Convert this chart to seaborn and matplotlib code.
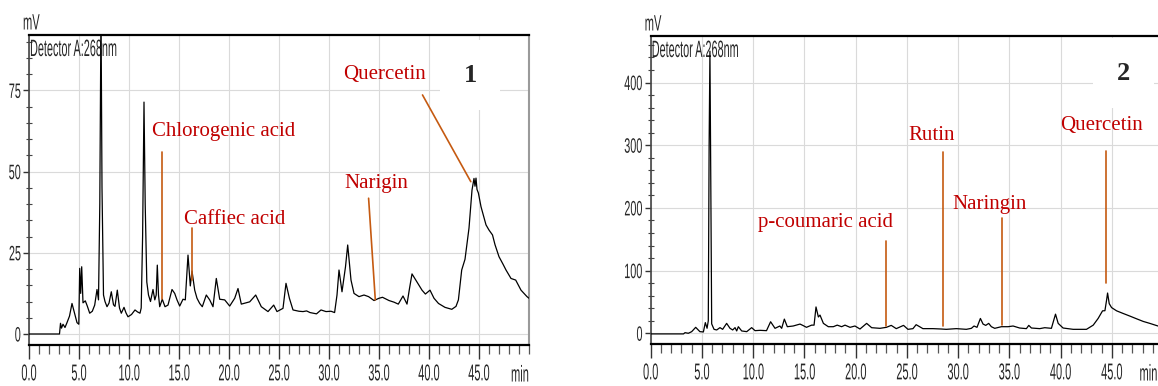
import matplotlib
matplotlib.use("Agg")
import matplotlib.pyplot as plt
import seaborn as sns
import numpy as np
import pandas as pd
from matplotlib.patheffects import AbstractPathEffect
from matplotlib.transforms import Affine2D, blended_transform_factory
from matplotlib.ticker import MultipleLocator, FixedLocator, FuncFormatter

# ---------------- data: chromatogram 1 ----------------
rt_1 = [0.0, 3.05, 3.15, 3.25, 3.4, 3.6, 3.8, 4.05, 4.3, 4.5,
        4.8, 4.98, 5.07, 5.17, 5.27, 5.4, 5.63, 5.83, 6.07, 6.33,
        6.57, 6.8, 6.95, 7.08, 7.2, 7.3, 7.45, 7.6, 7.8, 8.0,
        8.23, 8.45, 8.6, 8.83, 9.05, 9.23, 9.5, 9.7, 9.9, 10.25,
        10.6, 10.85, 11.1, 11.22, 11.36, 11.5, 11.62, 11.78, 11.95, 12.15,
        12.4, 12.58, 12.72, 12.83, 12.95, 13.07, 13.33, 13.6, 13.9, 14.3,
        14.57, 14.8, 15.07, 15.4, 15.63, 15.9, 16.13, 16.3, 16.57, 16.8,
        17.07, 17.33, 17.73, 18.07, 18.4, 18.73, 19.07, 19.57, 20.07, 20.57,
        20.9, 21.23, 21.6, 22.07, 22.67, 23.23, 23.9, 24.47, 24.8, 25.1,
        25.4, 25.7, 26.04, 26.4, 27.0, 27.4, 27.76, 28.1, 28.4, 28.75,
        29.2, 29.7, 30.2, 30.56, 30.8, 31.0, 31.3, 31.65, 31.87, 32.2,
        32.5, 33.0, 33.5, 33.96, 34.5, 35.0, 35.35, 36.0, 36.5, 36.93,
        37.4, 37.8, 38.05, 38.3, 38.6, 38.98, 39.3, 39.64, 40.1, 40.5,
        40.95, 41.6, 42.28, 42.7, 42.94, 43.27, 43.6, 44.0, 44.3, 44.5,
        44.6, 44.7, 44.8, 44.94, 45.2, 45.7, 46.0, 46.35, 46.6, 47.0,
        47.4, 47.7, 48.2, 48.67, 49.2, 49.8, 50.0]
mv_1 = [0.0, 0.0, 3.3, 1.8, 3.0, 2.0, 3.5, 5.5, 9.4, 7.0,
        3.5, 3.0, 20.2, 12.5, 20.7, 9.6, 10.2, 8.6, 6.4, 7.0,
        8.9, 13.7, 10.5, 40.0, 100.0, 45.0, 12.0, 10.0, 8.4, 9.5,
        13.0, 9.0, 8.5, 13.5, 8.0, 6.4, 8.2, 6.5, 5.3, 6.0,
        7.4, 6.8, 6.4, 8.0, 30.0, 71.4, 40.0, 16.0, 12.0, 10.0,
        13.7, 10.5, 12.0, 21.2, 12.0, 8.4, 10.7, 8.4, 8.9, 13.7,
        12.5, 10.5, 8.6, 10.7, 10.5, 24.3, 14.8, 19.4, 13.5, 11.0,
        9.4, 8.4, 12.0, 10.5, 8.4, 17.1, 10.7, 10.5, 8.6, 11.0,
        14.0, 9.2, 9.5, 9.9, 12.0, 8.4, 6.9, 8.9, 6.9, 7.4,
        7.9, 15.6, 11.0, 7.4, 7.0, 6.9, 7.1, 6.6, 6.4, 6.2,
        7.4, 6.9, 7.0, 6.6, 12.0, 19.7, 13.0, 20.7, 27.4, 16.6,
        12.5, 11.5, 12.0, 11.5, 10.3, 11.0, 11.3, 10.3, 9.8, 9.2,
        11.7, 9.2, 14.0, 18.5, 17.0, 15.1, 13.5, 12.3, 13.5, 11.0,
        9.4, 8.2, 7.6, 8.5, 10.5, 19.7, 23.0, 32.6, 44.3, 47.9,
        45.5, 48.0, 44.5, 43.4, 39.2, 33.6, 32.0, 30.5, 27.5, 23.8,
        21.5, 19.7, 17.1, 16.6, 13.5, 11.5, 11.0]

# ---------------- data: chromatogram 2 ----------------
rt_2 = [0.0, 3.2, 3.35, 3.67, 4.0, 4.39, 4.8, 5.14, 5.33, 5.5,
        5.62, 5.7, 5.78, 5.86, 5.95, 6.18, 6.44, 6.76, 7.02, 7.41,
        7.74, 8.0, 8.23, 8.39, 8.55, 8.88, 9.37, 9.85, 10.18, 10.67,
        11.3, 11.7, 12.13, 12.6, 12.78, 13.04, 13.33, 13.9, 14.57, 14.9,
        15.2, 15.7, 15.94, 16.13, 16.36, 16.52, 16.85, 17.33, 17.82, 18.2,
        18.63, 18.96, 19.45, 19.93, 20.42, 21.07, 21.56, 22.37, 23.0, 23.47,
        23.96, 24.67, 25.1, 25.59, 25.9, 26.24, 26.56, 27.54, 28.36, 28.84,
        29.82, 30.8, 31.29, 31.55, 31.84, 32.17, 32.43, 32.69, 32.98, 33.24,
        33.57, 34.22, 34.87, 35.36, 36.0, 36.66, 36.89, 37.15, 37.96, 38.45,
        39.1, 39.33, 39.5, 39.76, 40.24, 41.22, 42.52, 43.18, 43.66, 44.09,
        44.32, 44.48, 44.58, 44.74, 44.97, 45.46, 46.1, 46.76, 47.41, 48.06,
        48.7, 49.5]
mv_2 = [-1.0, -1.0, 1.0, 0.0, 2.6, 9.5, 2.6, 2.1, 17.0, 8.0,
        20.0, 300.0, 450.0, 250.0, 15.0, 6.3, 5.3, 9.0, 6.3, 15.8,
        7.9, 5.3, 9.0, 3.7, 10.5, 3.7, 2.6, 9.0, 4.2, 4.7,
        4.2, 18.4, 7.9, 11.6, 7.9, 22.6, 10.5, 11.6, 14.7, 12.1,
        9.5, 13.0, 13.0, 42.0, 26.0, 29.0, 15.8, 10.5, 10.5, 13.0,
        10.5, 13.0, 9.5, 11.6, 6.8, 15.8, 8.9, 7.9, 9.5, 12.6,
        7.4, 12.6, 6.3, 7.4, 13.7, 10.5, 7.4, 7.4, 6.8, 6.3,
        7.4, 6.3, 7.9, 11.6, 9.5, 23.7, 14.7, 12.6, 15.8, 10.5,
        7.9, 10.5, 10.5, 11.6, 8.4, 7.4, 12.6, 8.4, 7.4, 8.9,
        7.9, 21.0, 30.5, 15.8, 8.4, 6.3, 6.3, 13.0, 23.7, 35.8,
        36.0, 52.6, 64.2, 47.3, 41.0, 35.8, 31.6, 27.4, 23.1, 18.9,
        15.8, 11.6]

# ---------------- annotations ----------------
names_1 = ["Chlorogenic acid", "Caffiec acid", "Narigin", "Quercetin"]
label_xy_1 = [(19.5, 62.3), (20.6, 35.1), (34.7, 46.3), (35.6, 80.0)]
line_from_1 = [(13.33, 56.0), (16.33, 32.5), (33.96, 41.8), (39.35, 73.6)]
line_to_1 = [(13.33, 10.7), (16.33, 16.6), (34.63, 10.5), (44.18, 46.9)]

names_2 = ["p-coumaric acid", "Rutin", "Naringin", "Quercetin"]
label_xy_2 = [(17.05, 177.5), (27.44, 314.7), (33.1, 205.0), (43.96, 332.0)]
line_from_2 = [(23.0, 147.0), (28.5, 289.6), (34.27, 183.4), (44.43, 291.0)]
line_to_2 = [(23.0, 11.6), (28.5, 11.6), (34.27, 13.2), (44.43, 79.7)]

panel_tags = ["1", "2"]
tag_xy = [(44.1, 79.7), (46.1, 415.0)]
x_major = [0, 5, 10, 15, 20, 25, 30, 35, 40, 45]

LINE_C = "#c55a11"
TEXT_C = "#c00000"


class Squash(AbstractPathEffect):
    """Rescale drawn text (narrow chromatography-software font look)."""

    def __init__(self, sx=0.5, align="center", sy=1.0):
        super().__init__()
        self.sx = sx
        self.sy = sy
        self.align = align

    def draw_path(self, renderer, gc, tpath, affine, rgbFace=None):
        ext = tpath.get_extents(affine)
        if self.align == "left":
            x0 = ext.x0
        elif self.align == "right":
            x0 = ext.x1
        else:
            x0 = 0.5 * (ext.x0 + ext.x1)
        y0 = ext.y1
        tr = affine + Affine2D().translate(-x0, -y0).scale(self.sx, self.sy).translate(x0, y0)
        renderer.draw_path(gc, tpath, tr, rgbFace)


sns.set_style("white")
plt.rcParams["font.family"] = ["Liberation Sans", "DejaVu Sans"]

fig = plt.figure(figsize=(11.58, 3.86), dpi=100)
ax1 = fig.add_axes([29 / 1158, 41 / 386, 500 / 1158, 310 / 386])
ax2 = fig.add_axes([650.7 / 1158, 42 / 386, 507.3 / 1158, 308 / 386])

df1 = pd.DataFrame({"min": rt_1, "mV": mv_1})
df2 = pd.DataFrame({"min": rt_2, "mV": mv_2})
sns.lineplot(data=df1, x="min", y="mV", ax=ax1, color="black", lw=0.9, estimator=None, zorder=3)
sns.lineplot(data=df2, x="min", y="mV", ax=ax2, color="black", lw=0.9, estimator=None, zorder=3)


def style(ax, xmax, ylim, ymaj, ymin, right_spine, min_x):
    ax.set_xlim(0, xmax)
    ax.set_ylim(*ylim)
    ax.set_xlabel("")
    ax.set_ylabel("")
    ax.xaxis.set_major_locator(FixedLocator(x_major))
    ax.xaxis.set_minor_locator(MultipleLocator(1))
    ax.xaxis.set_major_formatter(FuncFormatter(lambda v, p: f"{v:.1f}"))
    ax.yaxis.set_major_locator(MultipleLocator(ymaj))
    ax.yaxis.set_minor_locator(MultipleLocator(ymin))
    ax.yaxis.set_major_formatter(FuncFormatter(lambda v, p: f"{v:.0f}"))
    ax.grid(True, which="major", color="#dadada", lw=0.8)
    ax.set_axisbelow(True)
    ax.spines["top"].set_color("black")
    ax.spines["top"].set_linewidth(1.6)
    ax.spines["bottom"].set_color("black")
    ax.spines["bottom"].set_linewidth(1.6)
    ax.spines["left"].set_color("#444444")
    ax.spines["left"].set_linewidth(1.2)
    if right_spine:
        ax.spines["right"].set_color("#9a9a9a")
        ax.spines["right"].set_linewidth(1.5)
    else:
        ax.spines["right"].set_visible(False)
    ax.tick_params(axis="x", which="major", direction="out", length=10, width=1.0,
                   color="#333333", labelsize=16.5, pad=2.5, bottom=True)
    ax.tick_params(axis="x", which="minor", direction="out", length=6.5, width=0.9,
                   color="#555555", bottom=True)
    ax.tick_params(axis="y", which="major", direction="out", length=4.5, width=1.0,
                   color="#333333", labelsize=15, pad=1, left=True)
    ax.tick_params(axis="y", which="minor", direction="inout", length=4, width=0.8,
                   color="#444444", left=True)
    for lab in ax.get_xticklabels():
        lab.set_path_effects([Squash(0.48, "center")])
    for lab in ax.get_yticklabels():
        lab.set_path_effects([Squash(0.52, "right")])
    h = ax.bbox.height
    tr = blended_transform_factory(ax.transData, ax.transAxes)
    # small font stretched vertically: same look as the condensed labels
    ax.text(min_x, -20 / h, "min", transform=tr, ha="right", va="top",
            fontsize=8, path_effects=[Squash(1.0, "right", sy=2.06)])
    ax.text(0.0, 1 - 4 / h, "Detector A:268nm", transform=ax.transAxes, ha="left", va="top",
            fontsize=17, path_effects=[Squash(0.46, "left")], zorder=2)
    ax.text(0.004, 1 + 0.5 / h, "mV", transform=ax.transAxes, ha="center", va="bottom",
            fontsize=16, path_effects=[Squash(0.5, "center")])


style(ax1, 50, (-3.39, 92.06), 25, 5, True, 50.0)
style(ax2, 49.5, (-17.1, 474.2), 100, 20, False, 49.45)


def annotate(ax, names, label_xy, lf, lt, tag, txy):
    for n, (lx, ly), (x0, y0), (x1, y1) in zip(names, label_xy, lf, lt):
        ax.plot([x0, x1], [y0, y1], color=LINE_C, lw=1.2, zorder=4)
        ax.text(lx, ly, n, ha="center", va="center", color=TEXT_C, fontsize=15,
                family=["Liberation Serif", "DejaVu Serif"], zorder=5)
    ax.text(txy[0], txy[1], tag, ha="center", va="center", fontsize=19, fontweight="bold",
            family=["Liberation Serif", "DejaVu Serif"], zorder=5,
            bbox=dict(boxstyle="square,pad=0.9", facecolor="white", edgecolor="none"))


annotate(ax1, names_1, label_xy_1, line_from_1, line_to_1, panel_tags[0], tag_xy[0])
annotate(ax2, names_2, label_xy_2, line_from_2, line_to_2, panel_tags[1], tag_xy[1])

fig.savefig("out.png", dpi=100)
